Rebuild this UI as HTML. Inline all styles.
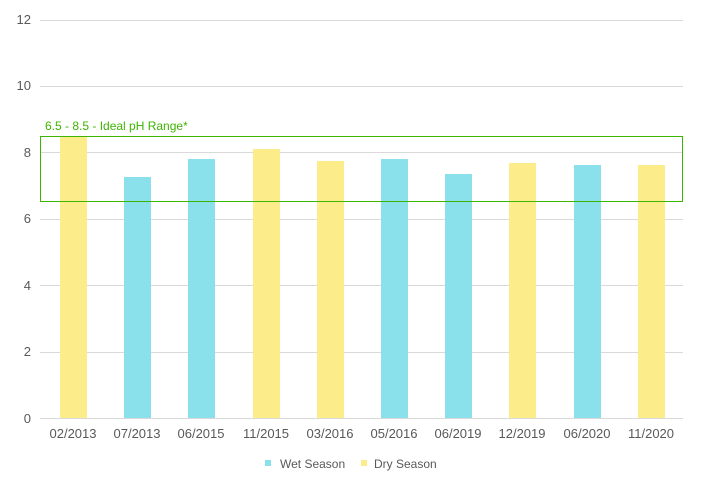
<!DOCTYPE html>
<html><head><meta charset="utf-8"><style>body{margin:0;background:#fff}svg{display:block}text{font-family:"Liberation Sans","DejaVu Sans",sans-serif}</style></head>
<body>
<svg width="702" height="498" xmlns="http://www.w3.org/2000/svg">
<g stroke="#d9d9d9" stroke-width="1">
<line x1="40" x2="683" y1="20.5" y2="20.5"/>
<line x1="40" x2="683" y1="86.5" y2="86.5"/>
<line x1="40" x2="683" y1="152.5" y2="152.5"/>
<line x1="40" x2="683" y1="219.5" y2="219.5"/>
<line x1="40" x2="683" y1="285.5" y2="285.5"/>
<line x1="40" x2="683" y1="352.5" y2="352.5"/>
<line x1="40" x2="683" y1="418.5" y2="418.5"/>
</g>
<g font-size="13" fill="#595959" text-anchor="end">
<text x="31" y="24">12</text><text x="31" y="90">10</text><text x="31" y="157">8</text>
<text x="31" y="223">6</text><text x="31" y="290">4</text><text x="31" y="356">2</text><text x="31" y="423">0</text>
</g>
<g>
<rect x="60" y="136" width="27" height="282" fill="#fdec8a"/>
<rect x="124" y="177" width="27" height="241" fill="#8ae1ec"/>
<rect x="188" y="159" width="27" height="259" fill="#8ae1ec"/>
<rect x="253" y="149" width="27" height="269" fill="#fdec8a"/>
<rect x="317" y="161" width="27" height="257" fill="#fdec8a"/>
<rect x="381" y="159" width="27" height="259" fill="#8ae1ec"/>
<rect x="445" y="174" width="27" height="244" fill="#8ae1ec"/>
<rect x="509" y="163" width="27" height="255" fill="#fdec8a"/>
<rect x="574" y="165" width="27" height="253" fill="#8ae1ec"/>
<rect x="638" y="165" width="27" height="253" fill="#fdec8a"/>
</g>
<rect x="40.5" y="136.5" width="642" height="65" fill="none" stroke="#3cb500" stroke-width="1"/>
<text x="45" y="130" font-size="12" fill="#3cb500">6.5 - 8.5 - Ideal pH Range*</text>
<g font-size="13" fill="#595959" text-anchor="middle">
<text x="73" y="438">02/2013</text><text x="137" y="438">07/2013</text><text x="201" y="438">06/2015</text>
<text x="266" y="438">11/2015</text><text x="330" y="438">03/2016</text><text x="394" y="438">05/2016</text>
<text x="458" y="438">06/2019</text><text x="522" y="438">12/2019</text><text x="587" y="438">06/2020</text>
<text x="651" y="438">11/2020</text>
</g>
<rect x="265" y="460" width="6" height="6" fill="#8ae1ec"/>
<text x="280" y="468" font-size="12" fill="#595959">Wet Season</text>
<rect x="361" y="460" width="6" height="6" fill="#fdec8a"/>
<text x="374" y="468" font-size="12" fill="#595959">Dry Season</text>
</svg>
</body></html>
